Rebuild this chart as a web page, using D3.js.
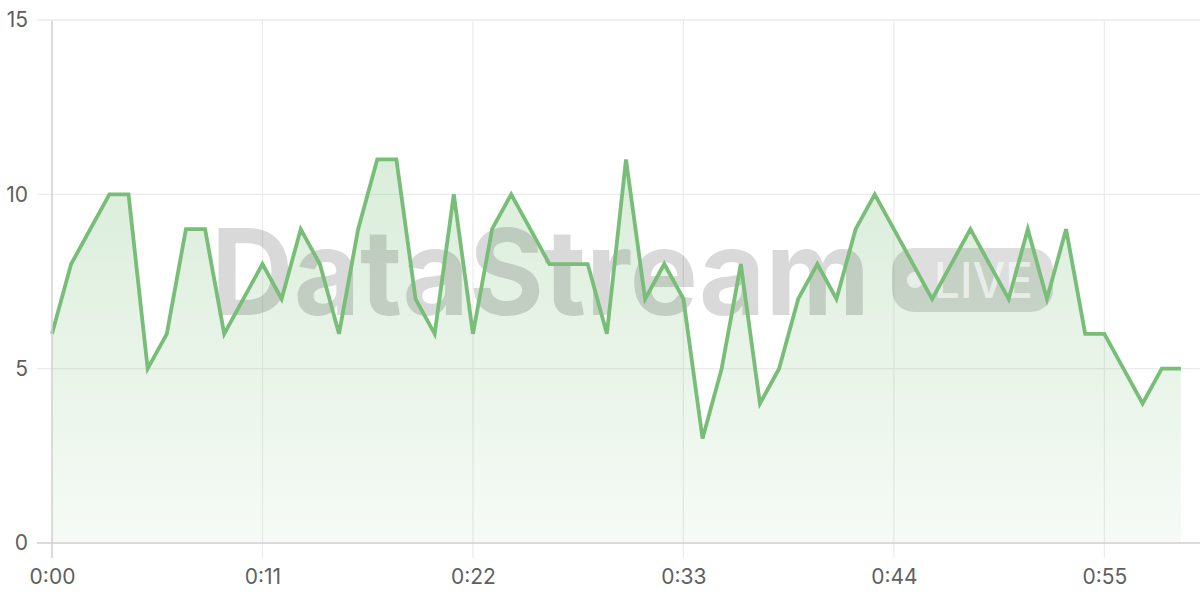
<!DOCTYPE html>
<html>
<head>
<meta charset="utf-8">
<title>DataStream live</title>
<style>
  html, body { margin: 0; padding: 0; background: #fff; }
  svg { display: block; font-family: Inter, "Liberation Sans", "DejaVu Sans", sans-serif; }
</style>
</head>
<body>
<script src="https://cdn.jsdelivr.net/npm/d3@7"></script>
<script>
// values, one per second
var seconds = d3.range(0, 60);
var values = [6, 8, 9, 10, 10, 5, 6, 9, 9, 6,
              7, 8, 7, 9, 8, 6, 9, 11, 11, 7,
              6, 10, 6, 9, 10, 9, 8, 8, 8, 6,
              11, 7, 8, 7, 3, 5, 8, 4, 5, 7,
              8, 7, 9, 10, 9, 8, 7, 8, 9, 8,
              7, 9, 7, 9, 6, 6, 5, 4, 5, 5];
var xTicks = [0, 11, 22, 33, 44, 55];
var yTicks = [0, 5, 10, 15];

var W = 1200, H = 600;
var margin = {top: 20, right: 0, bottom: 57, left: 52};
var width = W - margin.left - margin.right,
    height = H - margin.top - margin.bottom;

var x = d3.scaleLinear().domain([0, 60]).range([0, width]);
var y = d3.scaleLinear().domain([0, 15]).range([height, 0]);

function fmt(s) { return Math.floor(s / 60) + ":" + d3.format("02")(s % 60); }

var svg = d3.select("body").append("svg")
  .attr("width", W).attr("height", H);

var defs = svg.append("defs");
var grad = defs.append("linearGradient")
  .attr("id", "fillGrad").attr("x1", 0).attr("x2", 0)
  .attr("gradientUnits", "userSpaceOnUse")
  .attr("y1", y(11)).attr("y2", y(0));
grad.append("stop").attr("offset", "0%").attr("stop-color", "#7bbf7b").attr("stop-opacity", 0.28);
grad.append("stop").attr("offset", "100%").attr("stop-color", "#7bbf7b").attr("stop-opacity", 0.07);

var g = svg.append("g").attr("transform", "translate(" + margin.left + "," + margin.top + ")");

// grid
g.append("g").selectAll("line").data(yTicks.filter(function(d) { return d > 0; })).join("line")
  .attr("x1", -15).attr("x2", width)
  .attr("y1", function(d) { return y(d); }).attr("y2", function(d) { return y(d); })
  .attr("stroke", "#ebebeb").attr("stroke-width", 1.2);
g.append("g").selectAll("line").data(xTicks.filter(function(d) { return d > 0; })).join("line")
  .attr("x1", function(d) { return x(d); }).attr("x2", function(d) { return x(d); })
  .attr("y1", 0).attr("y2", height + 15)
  .attr("stroke", "#ebebeb").attr("stroke-width", 1.2);

// area
var data = seconds.map(function(s, i) { return {s: s, v: values[i]}; });
g.append("path").datum(data)
  .attr("fill", "url(#fillGrad)")
  .attr("d", d3.area().x(function(d) { return x(d.s); }).y0(y(0)).y1(function(d) { return y(d.v); }));

// watermark
var wm = g.append("g").attr("transform", "translate(" + (-margin.left) + "," + (-margin.top) + ")");
wm.append("text")
  .attr("x", 211).attr("y", 315)
  .attr("font-size", 119).attr("font-weight", 700)
  .attr("textLength", 659).attr("lengthAdjust", "spacingAndGlyphs")
  .attr("fill", "#000").attr("fill-opacity", 0.15)
  .text("DataStream");
wm.append("rect")
  .attr("x", 892).attr("y", 248).attr("width", 161).attr("height", 64).attr("rx", 22)
  .attr("fill", "#000").attr("fill-opacity", 0.13);
wm.append("circle").attr("cx", 915).attr("cy", 280).attr("r", 8)
  .attr("fill", "#fff").attr("fill-opacity", 0.6);
wm.append("text")
  .attr("x", 934).attr("y", 298)
  .attr("font-size", 49).attr("font-weight", 500)
  .attr("textLength", 99).attr("lengthAdjust", "spacingAndGlyphs")
  .attr("fill", "#fff").attr("fill-opacity", 0.6)
  .text("LIVE");

// line
g.append("path").datum(data)
  .attr("fill", "none").attr("stroke", "#78bd78").attr("stroke-width", 3.8)
  .attr("stroke-linejoin", "miter")
  .attr("d", d3.line().x(function(d) { return x(d.s); }).y(function(d) { return y(d.v); }));

// axes
var xAxis = g.append("g").attr("transform", "translate(0," + height + ")")
  .call(d3.axisBottom(x).tickValues(xTicks).tickFormat(fmt).tickSize(0).tickPadding(26));
var yAxis = g.append("g")
  .call(d3.axisLeft(y).tickValues(yTicks).tickSize(0).tickPadding(24));

[xAxis, yAxis].forEach(function(ax) {
  ax.select(".domain").remove();
  ax.selectAll("text").attr("fill", "#5f5f5f").attr("font-size", 21)
    .attr("font-family", "Inter, 'Liberation Sans', sans-serif");
});

// axis lines
g.append("line").attr("x1", -15).attr("x2", width).attr("y1", height).attr("y2", height)
  .attr("stroke", "#cfcfcf").attr("stroke-width", 1.5);
g.append("line").attr("x1", 0).attr("x2", 0).attr("y1", 0).attr("y2", height + 15)
  .attr("stroke", "#cfcfcf").attr("stroke-width", 1.5);
// top grid line
g.append("line").attr("x1", -15).attr("x2", width).attr("y1", y(15)).attr("y2", y(15))
  .attr("stroke", "#ebebeb").attr("stroke-width", 1.2);
</script>
</body>
</html>
